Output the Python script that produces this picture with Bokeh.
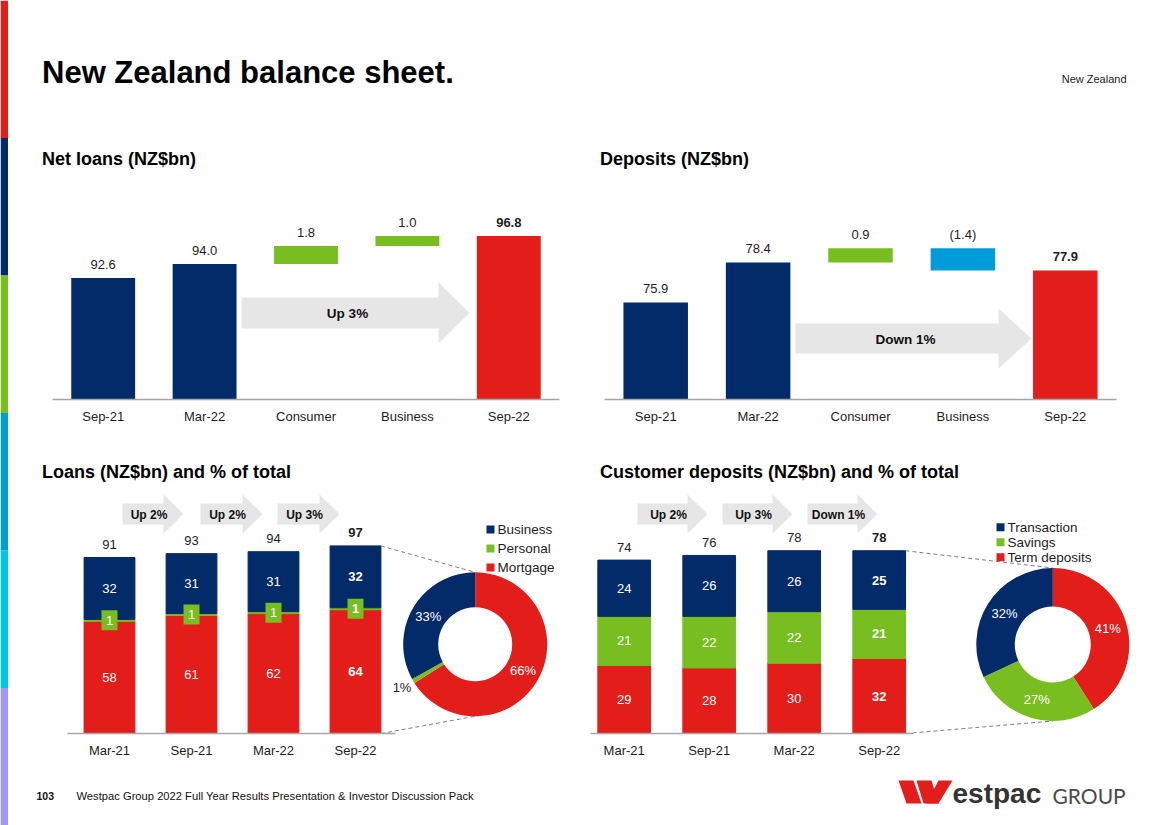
import math
from bokeh.plotting import figure
from bokeh.layouts import row, column
from bokeh.models import Range1d, FixedTicker, ColumnDataSource
from bokeh.core.properties import value
from bokeh.embed import file_html
from bokeh.resources import INLINE

FONT = "Liberation Sans"
NAVY = "#032B69"
RED = "#E31D1A"
GREEN = "#78BE20"
BLUE = "#009CDA"
ARROW = "#E6E6E6"
INK = "#1E1E1E"
AXIS = "#A6A6A6"
DASH = "#7F7F7F"

# ---------------- data ----------------
wf_cats = ["Sep-21", "Mar-22", "Consumer", "Business", "Sep-22"]
wf_kinds = ["total", "total", "delta", "delta", "total"]
net_loans = [92.6, 94.0, 1.8, 1.0, 96.8]
net_loans_change = "Up 3%"
deposits = [75.9, 78.4, 0.9, -1.4, 77.9]
deposits_change = "Down 1%"

periods = ["Mar-21", "Sep-21", "Mar-22", "Sep-22"]
loans_mortgage = [58, 61, 62, 64]
loans_personal = [1, 1, 1, 1]
loans_business = [32, 31, 31, 32]
loans_total = [91, 93, 94, 97]
loans_changes = ["Up 2%", "Up 2%", "Up 3%"]
loans_mix_pct = [66, 1, 33]          # Mortgage, Personal, Business

dep_term = [29, 28, 30, 32]
dep_savings = [21, 22, 22, 21]
dep_transaction = [24, 26, 26, 25]
dep_total = [74, 76, 78, 78]
dep_changes = ["Up 2%", "Up 3%", "Down 1%"]
dep_mix_pct = [41, 27, 32]           # Term deposits, Savings, Transaction

stripe_colors = ["#E31D1A", "#032B69", "#78BE20", "#009CDA", "#00C4F0", "#A196F5"]


# ---------------- helpers ----------------
def make_fig(w, h, xr, yr, axis=False, left=0, right=0, top=0, bottom=0):
    p = figure(width=w, height=h, x_range=xr, y_range=yr, output_backend="svg",
               toolbar_location=None, x_axis_location="below" if axis else None,
               y_axis_location=None, min_border_left=left, min_border_right=right,
               min_border_top=top, min_border_bottom=bottom)
    p.outline_line_color = None
    p.background_fill_color = "white"
    p.border_fill_color = "white"
    p.xgrid.visible = False
    p.ygrid.visible = False
    return p


def put_text(p, xs, ys, texts, size, bold=False, color=INK, align="center",
             baseline="middle", font=FONT, xo=0, yo=0):
    p.text(x=xs, y=ys, text=texts, text_font=value(font),
           text_font_size=value(f"{size}px"),
           text_font_style="bold" if bold else "normal", text_color=color,
           text_align=align, text_baseline=baseline, x_offset=xo, y_offset=yo)


def style_axis(ax, labels):
    ax.ticker = FixedTicker(ticks=list(range(len(labels))))
    ax.major_label_overrides = {i: lab for i, lab in enumerate(labels)}
    ax.axis_line_color = AXIS
    ax.axis_line_width = 1.5
    ax.major_tick_line_color = None
    ax.minor_tick_line_color = None
    ax.major_tick_out = 0
    ax.major_tick_in = 0
    ax.major_label_text_font = FONT
    ax.major_label_text_font_size = "13px"
    ax.major_label_text_color = INK
    ax.major_label_standoff = 9


def arrow_pts(x0, x1, xtip, yc, body, head):
    return [(x0, yc - body / 2), (x1, yc - body / 2), (x1, yc - head / 2), (xtip, yc),
            (x1, yc + head / 2), (x1, yc + body / 2), (x0, yc + body / 2)]


def waterfall_fig(vals, kinds, cats, change, fig_x0, fig_w, frame_x0, frame_x1,
                  base_val, ppu, arrow, arrow_text_at):
    top_py, base_py, bot_py = 180, 399, 440
    n = len(vals)
    X = lambda px: -0.5 + (px - frame_x0) / (frame_x1 - frame_x0) * n
    Y = lambda py: base_val + (base_py - py) / ppu
    xr = Range1d(-0.5, n - 0.5)
    yr = Range1d(base_val, Y(top_py))
    p = make_fig(fig_w, bot_py - top_py, xr, yr, axis=True,
                 left=frame_x0 - fig_x0, right=fig_x0 + fig_w - frame_x1,
                 top=0, bottom=bot_py - base_py)
    # grey change arrow (behind the bars)
    pts = arrow_pts(*arrow)
    p.patch([X(a) for a, b in pts], [Y(b) for a, b in pts], color=ARROW, line_color=None)
    put_text(p, [X(arrow_text_at[0])], [Y(arrow_text_at[1])], [change], 13.5, bold=True,
             color="#111111")
    bottoms, tops, colors, labels = [], [], [], []
    running = 0.0
    for i, (v, k) in enumerate(zip(vals, kinds)):
        if k == "total":
            bottoms.append(base_val)
            tops.append(v)
            running = v
            colors.append(RED if i == n - 1 else NAVY)
            labels.append(f"{v:.1f}")
        else:
            lo, hi = sorted([running, running + v])
            bottoms.append(lo)
            tops.append(hi)
            running += v
            colors.append(GREEN if v >= 0 else BLUE)
            labels.append(f"{v:.1f}" if v >= 0 else f"({abs(v):.1f})")
    xs = list(range(n))
    p.vbar(x=xs, bottom=bottoms, top=tops, width=0.63, fill_color=colors, line_color=None)
    for i in xs:
        put_text(p, [i], [tops[i]], [labels[i]], 13, bold=(i == n - 1), yo=-14)
    style_axis(p.xaxis[0], cats)
    return p


def stacked_fig(fig_x0, fig_w, c0, step, ppu, axis_px, series, totals, changes,
                chevrons, mix_pct, donut_c, r_in, r_out, legend_px, legend_dy,
                boxed=None):
    top_py, base_py, bot_py = 490, 733, 775
    X = lambda px: (px - c0) / step
    Y = lambda py: (base_py - py) / ppu
    xr = Range1d(X(fig_x0), X(fig_x0 + fig_w))
    yr = Range1d(0, Y(top_py))
    p = make_fig(fig_w, bot_py - top_py, xr, yr, axis=True, top=0, bottom=bot_py - base_py)
    n = len(totals)
    xs = list(range(n))
    bw = 0.62
    names = [s[0] for s in series]
    src = ColumnDataSource({"x": xs, **{s[0]: s[1] for s in series}})
    p.vbar_stack(names, x="x", width=bw, color=[s[2] for s in series], source=src)

    cum = [0] * n
    for name, vals, col in series:
        centers = [cum[i] + vals[i] / 2 for i in xs]
        if name == boxed:
            p.rect(x=xs, y=centers, width=16, height=20, width_units="screen",
                   height_units="screen", fill_color=col, line_color=None)
        for i in xs:
            put_text(p, [i], [centers[i]], [str(vals[i])], 13, bold=(i == n - 1),
                     color="white")
        cum = [cum[i] + vals[i] for i in xs]
    for i in xs:
        put_text(p, [i], [totals[i]], [str(totals[i])], 13, bold=(i == n - 1), yo=-13)

    # change chevrons
    for (x0, xt), lab in zip(chevrons, changes):
        pts = arrow_pts(x0, xt - 20, xt, 513.5, 21, 39)
        p.patch([X(a) for a, b in pts], [Y(b) for a, b in pts], color=ARROW, line_color=None)
        put_text(p, [X((x0 + xt) / 2 - 4)], [Y(514)], [lab], 12, bold=True, color="#111111")

    # dashed connectors
    cx, cy = X(donut_c[0]), Y(donut_c[1])
    bx = (n - 1) + bw / 2
    p.line([bx, cx], [cum[-1], Y(donut_c[1] - r_out)], line_color=DASH, line_dash="4 3", line_width=1)
    p.line([bx, cx], [0, Y(donut_c[1] + r_out)], line_color=DASH, line_dash="4 3", line_width=1)

    # donut (clockwise from 12 o'clock)
    acc = 0
    for pct, (name, vals, col) in zip(mix_pct, series):
        start = math.radians(90 - (acc + pct) * 3.6)
        end = math.radians(90 - acc * 3.6)
        p.annular_wedge(x=cx, y=cy, inner_radius=r_in, outer_radius=r_out,
                        inner_radius_units="screen", outer_radius_units="screen",
                        start_angle=start, end_angle=end, direction="anticlock",
                        fill_color=col, line_color=None)
        mid = math.radians(90 - (acc + pct / 2) * 3.6)
        if pct >= 5:
            r, tc = (r_in + r_out) / 2, "white"
        else:
            r, tc = r_out + 13, INK
        put_text(p, [cx], [cy], [f"{pct}%"], 13, color=tc,
                 xo=r * math.cos(mid), yo=-r * math.sin(mid))
        acc += pct

    # legend
    for k, (name, vals, col) in enumerate(reversed(series)):
        py = legend_px[1] + k * legend_dy
        p.scatter(x=[X(legend_px[0])], y=[Y(py)], marker="square", size=8,
                  fill_color=col, line_color=None)
        put_text(p, [X(legend_px[0] + 7)], [Y(py)], [name], 13.5, align="left")

    ax = p.xaxis[0]
    style_axis(ax, periods)
    ax.bounds = (X(axis_px[0]), X(axis_px[1]))
    return p


# ---------------- panels ----------------
W = 1160  # width right of the stripe

stripe = make_fig(8, 825, Range1d(0, 1), Range1d(825, 0))
edges = [825 * i / 6 for i in range(7)]
stripe.quad(left=0, right=1, top=edges[:-1], bottom=edges[1:], fill_color=stripe_colors,
            line_color=None)

header = make_fig(W, 140, Range1d(0, W), Range1d(140, 0))
put_text(header, [33.5], [72], ["New Zealand balance sheet."], 31, bold=True,
         color="black", align="left")
put_text(header, [1118], [78], ["New Zealand"], 11, color="#222222", align="right")

sub1 = make_fig(W, 40, Range1d(0, W), Range1d(40, 0))
put_text(sub1, [33.5, 591.5], [18, 18], ["Net loans (NZ$bn)", "Deposits (NZ$bn)"], 18,
         bold=True, color="black", align="left")

nl = waterfall_fig(net_loans, wf_kinds, wf_cats, net_loans_change, 8, 572, 52, 559,
                   80.45, 10, (241, 438, 469, 312.5, 31, 61), (347, 313))
dp = waterfall_fig(deposits, wf_kinds, wf_cats, deposits_change, 580, 588, 604, 1116,
                   69.84, 16, (795, 998, 1031, 338, 30, 60), (905, 339))

sub2 = make_fig(W, 50, Range1d(0, W), Range1d(50, 0))
put_text(sub2, [33.5, 591.5], [31, 31],
         ["Loans (NZ$bn) and % of total", "Customer deposits (NZ$bn) and % of total"], 18,
         bold=True, color="black", align="left")

loans = stacked_fig(8, 572, 109, 82, 1.934, (67, 395),
                    [("Mortgage", loans_mortgage, RED), ("Personal", loans_personal, GREEN),
                     ("Business", loans_business, NAVY)],
                    loans_total, loans_changes, [(122, 183), (200, 262), (277, 339)],
                    loans_mix_pct, (474.7, 643.8), 37, 72, (490, 529), 19, boxed="Personal")
cdep = stacked_fig(580, 588, 623.7, 85, 2.343, (590, 913),
                   [("Term deposits", dep_term, RED), ("Savings", dep_savings, GREEN),
                    ("Transaction", dep_transaction, NAVY)],
                   dep_total, dep_changes, [(637, 707), (722, 792), (807, 877)],
                   dep_mix_pct, (1052.3, 644), 38, 76.5, (1000, 526.7), 15)

footer = make_fig(W, 50, Range1d(0, W), Range1d(50, 0))
put_text(footer, [28], [20], ["103"], 10.5, bold=True, color="#111111", align="left")
put_text(footer, [68], [20],
         ["Westpac Group 2022 Full Year Results Presentation & Investor Discussion Pack"],
         11.2, color="#111111", align="left")
# logo: stylised W made of slanted strokes, then wordmark
ox, oy = -8, -775
strokes = [
    [(898, 780), (913, 780), (921, 803), (906, 803)],
    [(916, 780), (931, 780), (938, 803), (923, 803)],
    [(938, 780), (952, 780), (938, 803), (926, 803)],
]
footer.patches([[a + ox for a, b in s] for s in strokes], [[b + oy for a, b in s] for s in strokes],
               fill_color=RED, line_color=None)
put_text(footer, [952 + ox], [793 + oy], ["estpac"], 28, bold=True, color="#333333",
         align="left")
put_text(footer, [1052 + ox], [795 + oy], ["GROUP"], 21, color="#4A4A4A", align="left",
         font="Lato")

layout = row(stripe, column(header, sub1, row(nl, dp), sub2, row(loans, cdep), footer))

html = file_html(layout, INLINE)
html = html.replace("</head>",
                    "<style>html,body{margin:0!important;padding:0!important;}</style></head>", 1)
open("out.html", "w").write(html)
